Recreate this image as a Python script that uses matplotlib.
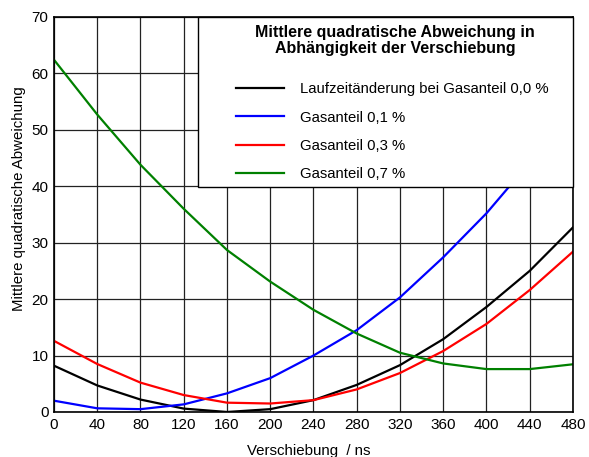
import matplotlib
matplotlib.use("Agg")
import matplotlib.pyplot as plt
from matplotlib.patches import Rectangle

plt.rcParams['font.family'] = ['Liberation Sans', 'DejaVu Sans']

verschiebung = [0, 40, 80, 120, 160, 200, 240, 280, 320, 360, 400, 440, 480]

gas_00 = [8.2, 4.7, 2.2, 0.6, 0.0, 0.5, 2.1, 4.8, 8.3, 12.9, 18.6, 25.0, 32.7]
gas_01 = [2.0, 0.65, 0.5, 1.35, 3.3, 6.0, 10.0, 14.5, 20.3, 27.4, 35.2, 44.2, 53.7]
gas_03 = [12.6, 8.5, 5.2, 3.0, 1.65, 1.5, 2.1, 4.0, 6.9, 10.8, 15.6, 21.6, 28.4]
gas_07 = [62.4, 52.7, 43.8, 36.0, 28.7, 23.1, 18.1, 13.9, 10.5, 8.6, 7.6, 7.6, 8.45]

labels = ["Laufzeitänderung bei Gasanteil 0,0 %", "Gasanteil 0,1 %",
          "Gasanteil 0,3 %", "Gasanteil 0,7 %"]
colors = ["black", "#0000ff", "#ff0000", "#008000"]
titel = "Mittlere quadratische Abweichung in\nAbhängigkeit der Verschiebung"

fig = plt.figure(figsize=(5.89, 4.57), dpi=100)
ax = fig.add_axes([0.0917, 0.0985, 0.881, 0.8645])

for vals, lab, col in zip([gas_00, gas_01, gas_03, gas_07], labels, colors):
    ax.plot(verschiebung, vals, color=col, linewidth=1.6, label=lab)

ax.set_xlim(0, 480)
ax.set_ylim(0, 70)
ax.set_xticks(range(0, 481, 40))
ax.set_yticks(range(0, 71, 10))
ax.grid(True, color="#222222", linewidth=0.9)
ax.tick_params(labelsize=11, length=0, pad=4)
for s in ax.spines.values():
    s.set_linewidth(1.2)

ax.set_xlabel("Verschiebung  / ns", fontsize=10.8)
ax.xaxis.set_label_coords(0.490, -0.081)
ax.set_ylabel("Mittlere quadratische Abweichung", fontsize=10.8)
ax.yaxis.set_label_coords(-0.054, 0.540)

# legend box with title
box = Rectangle((0.277, 0.570), 0.723, 0.430, transform=ax.transAxes,
                facecolor="white", edgecolor="black", linewidth=1.0,
                zorder=3, clip_on=False)
ax.add_patch(box)
ax.text(0.657, 0.9405, titel, transform=ax.transAxes, ha="center", va="center",
        multialignment="center", fontsize=11.5, fontweight="bold",
        linespacing=1.05, zorder=6)

leg = ax.legend(loc="upper left", bbox_to_anchor=(0.3507, 0.834),
                fontsize=10.7, frameon=False, borderpad=0, borderaxespad=0,
                handlelength=3.2, handletextpad=1.1, labelspacing=0.95)
leg.set_zorder(6)

fig.savefig("out.png", dpi=100)
